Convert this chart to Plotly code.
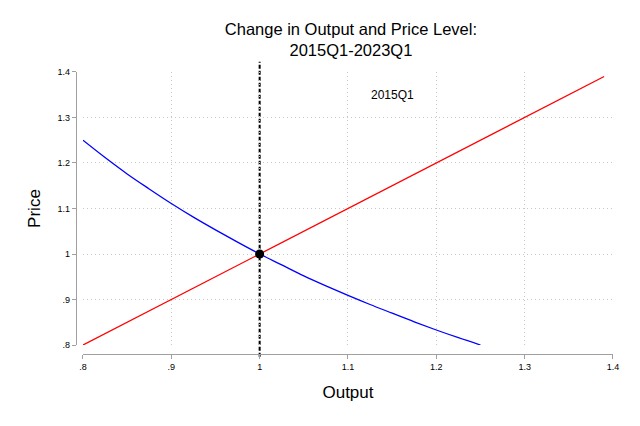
import plotly.graph_objects as go

# demand curve (blue)
demand_x = [0.800, 0.825, 0.850, 0.875, 0.900, 0.925, 0.950, 0.975, 1.000,
            1.025, 1.050, 1.075, 1.100, 1.125, 1.150, 1.175, 1.200, 1.225, 1.250]
demand_y = [1.250, 1.212, 1.176, 1.143, 1.111, 1.081, 1.053, 1.026, 1.000,
            0.976, 0.952, 0.930, 0.909, 0.889, 0.870, 0.851, 0.833, 0.816, 0.800]

# supply line (red)
supply_x = [0.80, 1.39]
supply_y = [0.80, 1.39]

# equilibrium point
eq_x = [1.0]
eq_y = [1.0]

tick_vals = [0.8, 0.9, 1.0, 1.1, 1.2, 1.3, 1.4]
tick_text = [".8", ".9", "1", "1.1", "1.2", "1.3", "1.4"]

label_text = "2015Q1"
label_x = 1.15
label_y = 1.35

FONT = "Arial, Liberation Sans, sans-serif"

fig = go.Figure()
fig.add_trace(go.Scatter(x=demand_x, y=demand_y, mode="lines",
                         line=dict(color="#0000ff", width=1.3, shape="spline"),
                         showlegend=False))
fig.add_trace(go.Scatter(x=supply_x, y=supply_y, mode="lines",
                         line=dict(color="#ff0000", width=1.3), showlegend=False))
fig.add_trace(go.Scatter(x=eq_x, y=eq_y, mode="markers",
                         marker=dict(color="black", size=9), showlegend=False,
                         cliponaxis=False))

# vertical dashed line at x = 1, runs past the plot range like the original
fig.add_shape(type="line", xref="x", yref="paper", x0=1, x1=1, y0=0.03, y1=0.994,
              line=dict(color="black", width=2, dash="4px,2px"), layer="below")

fig.add_annotation(x=label_x, y=label_y, text=label_text, showarrow=False,
                   font=dict(size=12, color="black", family=FONT))

axis_common = dict(
    tickvals=tick_vals, ticktext=tick_text, range=[0.8, 1.4],
    showgrid=True, gridcolor="#c8c8c8", griddash="1px,3px", gridwidth=1,
    zeroline=False, showline=True, linecolor="#a0a0a0", linewidth=1,
    ticks="outside", ticklen=4, tickcolor="#a0a0a0",
    tickfont=dict(size=9, color="black", family=FONT),
    anchor="free", automargin=False,
)

fig.update_layout(
    width=640, height=426,
    paper_bgcolor="white", plot_bgcolor="white",
    margin=dict(l=52, r=22, t=52, b=68),
    font=dict(family=FONT, color="black"),
    title=dict(text="Change in Output and Price Level:<br>2015Q1-2023Q1",
               x=0.514, xref="paper", xanchor="center", y=0.937, yanchor="top",
               font=dict(size=16.5, color="black", family=FONT)),
    xaxis=dict(axis_common, domain=[0.0406, 0.977], position=0.039,
               title=dict(text="Output", font=dict(size=17), standoff=15)),
    yaxis=dict(axis_common, domain=[0.0686, 0.9608], position=0.028,
               tickangle=0,
               title=dict(text="Price", font=dict(size=17), standoff=11)),
)

fig.write_html("out.html")
